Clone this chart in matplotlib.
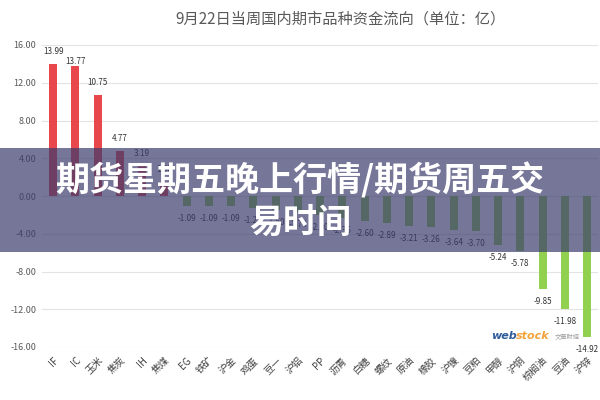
import matplotlib
matplotlib.use("Agg")
import matplotlib.pyplot as plt
import matplotlib.patches as mpatches

plt.rcParams['font.family'] = ['Noto Sans CJK SC', 'DejaVu Sans']

# 品种与资金流向（亿）
categories = ['IF', 'IC', '玉米', '焦炭', 'IH', '焦煤', 'EG', '铁矿', '沪金', '鸡蛋',
              '豆一', '沪铝', 'PP', '沥青', '白糖', '螺纹', '原油', '橡胶', '沪镍',
              '豆粕', '甲醇', '沪铜', '棕榈油', '豆油', '沪锌']
values = [13.99, 13.77, 10.75, 4.77, 3.19, 1.50, -1.09, -1.09, -1.09, -1.23,
          -1.50, -1.74, -2.00, -2.36, -2.60, -2.89, -3.21, -3.26, -3.64,
          -3.70, -5.24, -5.78, -9.85, -11.98, -14.92]
yticks = [16, 12, 8, 4, 0, -4, -8, -12, -16]

title = '9月22日当周国内期市品种资金流向（单位：亿）'
banner = '期货星期五晚上行情/期货周五交\n易时间'

fig = plt.figure(figsize=(6, 4), dpi=100)
ax = fig.add_axes([0.07, 0.1325, 0.927, 0.755])

colors = ['#E8474B' if v > 0 else '#92D050' for v in values]
x = range(len(categories))
ax.bar(x, values, width=0.36, color=colors, zorder=3)

# IC label sits lower so it does not clash with IF's
nudge = {1: -6}
for i, v in enumerate(values):
    off = (9 if v > 0 else -9) + nudge.get(i, 0)
    ax.annotate(f'{v:.2f}', (i, v), xytext=(0, off), textcoords='offset points',
                ha='center', va='center', fontsize=5.8, color='#333333', zorder=4)

ax.set_xlim(-0.5, len(categories) - 0.5)
ax.set_ylim(-16, 16)
ax.set_yticks(yticks)
ax.set_yticklabels([f'{t:.2f}' for t in yticks], fontsize=6.5, color='#595959')
ax.set_xticks(list(x))
ax.set_xticklabels(categories, rotation=45, ha='right', rotation_mode='anchor',
                   fontsize=7, color='#404040')
ax.tick_params(length=0, pad=4)
ax.tick_params(axis='x', pad=6)
ax.grid(axis='y', color='#E3E3E3', linewidth=0.8, zorder=0)
for s in ax.spines.values():
    s.set_visible(False)

fig.text(0.567, 0.952, title, ha='center', va='center', fontsize=11,
         color='#595959', fontweight='light')

# watermark
fig.text(0.818, 0.16, 'web', color='#2E5C9A', fontsize=8, fontweight='bold',
         style='italic', ha='left', va='center', family='DejaVu Sans')
fig.text(0.86, 0.16, 'stock', color='#F2A23A', fontsize=8, fontweight='bold',
         style='italic', ha='left', va='center', family='DejaVu Sans')
fig.text(0.925, 0.158, '文華財經', color='#A0A0A0', fontsize=4.5, ha='left', va='center')

# banner overlay
fig.patches.append(mpatches.Rectangle((0, 1 - 252 / 400), 1, 104 / 400,
                                      transform=fig.transFigure,
                                      facecolor=(60 / 255, 60 / 255, 110 / 255),
                                      alpha=0.7, zorder=10))
fig.text(0.5, 1 - 201 / 400, banner, ha='center', va='center', fontsize=24.5,
         fontweight='heavy', color='white', linespacing=1.25, zorder=11)

fig.savefig('out.png', dpi=100)
